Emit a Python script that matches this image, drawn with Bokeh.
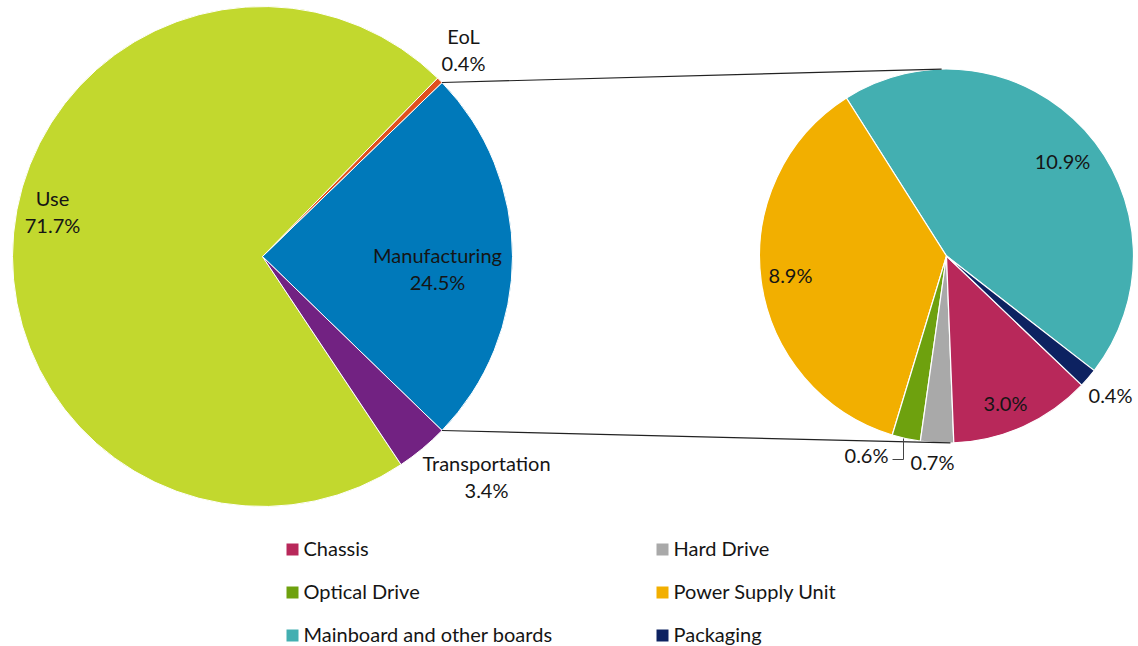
import numpy as np
from bokeh.plotting import figure
from bokeh.models import Range1d
from bokeh.core.properties import value
from bokeh.embed import file_html
from bokeh.resources import INLINE

# ---------------- data ----------------
main_names = ["Manufacturing", "EoL", "Use", "Transportation"]
main_values = [24.5, 0.4, 71.7, 3.4]
main_colors = ["#0079BA", "#E0501E", "#C2D82E", "#722282"]

sub_names = ["Mainboard and other boards", "Power Supply Unit", "Optical Drive",
             "Hard Drive", "Chassis", "Packaging"]
sub_values = [10.9, 8.9, 0.6, 0.7, 3.0, 0.4]
sub_colors = ["#43AFB1", "#F2AF00", "#6EA10E", "#A9A9A9", "#B8285A", "#0D2261"]

legend_order = ["Chassis", "Hard Drive", "Optical Drive", "Power Supply Unit",
                "Mainboard and other boards", "Packaging"]

# ---------------- layout ----------------
W, H = 1138, 646
TY = 2  # small vertical correction for text baseline
def X(sx): return sx
def Y(sy): return H - sy

FONT = value("Lato")
FS = "20px"
TXT = "#151515"

p = figure(width=W, height=H, output_backend="svg", toolbar_location=None,
           x_range=Range1d(0, W), y_range=Range1d(0, H), min_border=0,
           background_fill_color="white", border_fill_color="white")
p.axis.visible = False
p.grid.visible = False
p.outline_line_color = None

# left pie
lcx, lcy, lr = X(262), Y(256), 250
mv = np.array(main_values, dtype=float)
mfrac = mv / mv.sum() * 2 * np.pi
lstart0 = -mfrac[0] / 2
lends = lstart0 + np.cumsum(mfrac)
lstarts = lends - mfrac
p.wedge(x=lcx, y=lcy, radius=lr, start_angle=lstarts, end_angle=lends,
        fill_color=main_colors, line_color="white", line_width=1)

# right pie (breakdown of manufacturing)
rcx, rcy, rr = X(946), Y(255.5), 187
sv = np.array(sub_values, dtype=float)
sfrac = sv / sv.sum() * 2 * np.pi
rstart0 = np.deg2rad(-37.8)
rends = rstart0 + np.cumsum(sfrac)
rstarts = rends - sfrac
p.wedge(x=rcx, y=rcy, radius=rr, start_angle=rstarts, end_angle=rends,
        fill_color=sub_colors, line_color="white", line_width=1.2)

# connector lines
a_top, a_bot = lends[0], lstarts[0]
rt, rb = np.deg2rad(91.5), np.deg2rad(-88.8)
p.line([lcx + lr*np.cos(a_top), rcx + rr*np.cos(rt)],
       [lcy + lr*np.sin(a_top), rcy + rr*np.sin(rt)], line_color="#222222", line_width=1.2)
p.line([lcx + lr*np.cos(a_bot), rcx + rr*np.cos(rb)],
       [lcy + lr*np.sin(a_bot), rcy + rr*np.sin(rb)], line_color="#222222", line_width=1.2)

# leader line for 0.6%
p.line([X(903), X(903), X(892)], [Y(438), Y(459), Y(459)], line_color="#444444", line_width=1)

# labels
main_label_pos = {"Manufacturing": (437, 256), "EoL": (463, 37),
                  "Use": (52, 199), "Transportation": (486, 464)}
lx, ly, lt = [], [], []
for n, v in zip(main_names, main_values):
    sx, sy = main_label_pos[n]
    lx += [X(sx), X(sx)]
    ly += [Y(sy - TY), Y(sy + 27 - TY)]
    lt += [n, f"{v:.1f}%"]

sub_label_pos = {"Mainboard and other boards": (1062, 162), "Power Supply Unit": (790, 276),
                 "Optical Drive": (866, 456), "Hard Drive": (932, 463),
                 "Chassis": (1005, 404), "Packaging": (1110, 396)}
for n, v in zip(sub_names, sub_values):
    sx, sy = sub_label_pos[n]
    lx.append(X(sx)); ly.append(Y(sy - TY)); lt.append(f"{v:.1f}%")

p.text(x=lx, y=ly, text=lt, text_align="center", text_baseline="middle",
       text_font=FONT, text_font_size=FS, text_color=TXT)

# legend (manual, 2 columns)
col_x = [286, 656]
row_y = [549, 592, 635]
cmap = dict(zip(sub_names, sub_colors))
gx, gy, gc, tx, ty, tt = [], [], [], [], [], []
for i, n in enumerate(legend_order):
    sx = col_x[i % 2]; sy = row_y[i // 2]
    gx.append(X(sx + 6)); gy.append(Y(sy)); gc.append(cmap[n])
    tx.append(X(sx + 17)); ty.append(Y(sy - TY)); tt.append(n)
p.rect(x=gx, y=gy, width=12, height=12, fill_color=gc, line_color=None)
p.text(x=tx, y=ty, text=tt, text_align="left", text_baseline="middle",
       text_font=FONT, text_font_size=FS, text_color=TXT)

open("out.html", "w").write(file_html(p, INLINE))
